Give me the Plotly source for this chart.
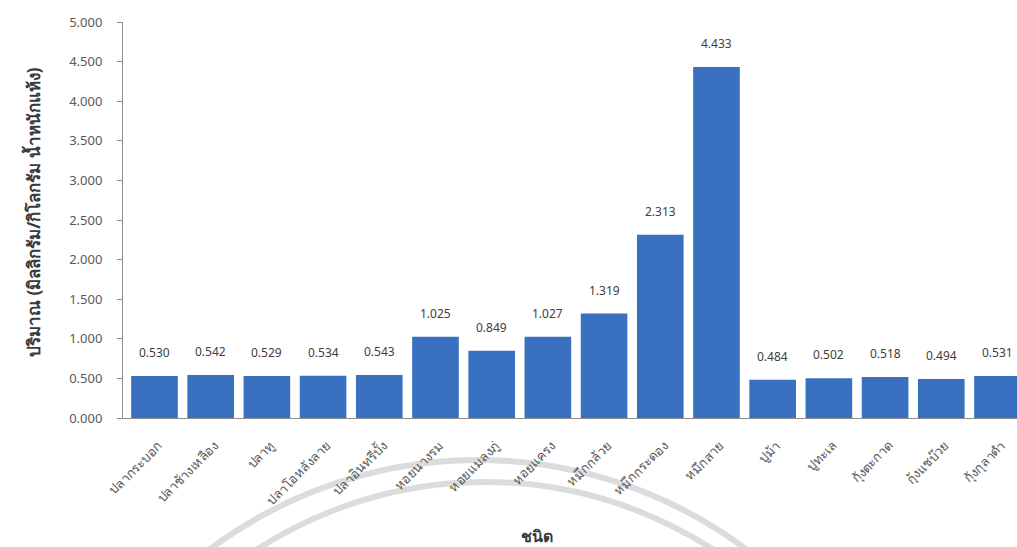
import plotly.graph_objects as go

# Species sampled
species = [
    "ปลากระบอก", "ปลาช้างเหลือง", "ปลาทู", "ปลาโอหลังลาย", "ปลาอินทรีบั้ง",
    "หอยนางรม", "หอยแมลงภู่", "หอยแครง", "หมึกกล้วย", "หมึกกระดอง",
    "หมึกสาย", "ปูม้า", "ปูทะเล", "กุ้งตะกาด", "กุ้งแชบ๊วย", "กุ้งกุลาดำ",
]

# Concentration (mg/kg dry weight)
amounts = [
    0.530, 0.542, 0.529, 0.534, 0.543,
    1.025, 0.849, 1.027, 1.319, 2.313,
    4.433, 0.484, 0.502, 0.518, 0.494, 0.531,
]

y_ticks = [0.0, 0.5, 1.0, 1.5, 2.0, 2.5, 3.0, 3.5, 4.0, 4.5, 5.0]

W, H = 1017, 547
L, R, T, B = 123, 0, 22, 129
plot_w = W - L - R
plot_h = H - T - B

FONT = "Noto Sans, Open Sans, sans-serif"
BAR = "#3a70c0"

fig = go.Figure()
fig.add_trace(go.Bar(
    x=list(range(len(species))),
    y=amounts,
    marker=dict(color=BAR, line=dict(width=0)),
    width=0.83,
    hoverinfo="x+y",
))

# value labels above each bar
annotations = []
for i, v in enumerate(amounts):
    annotations.append(dict(
        x=i, y=v, xref="x", yref="y",
        text=f"{v:.3f}", showarrow=False,
        yanchor="bottom", yshift=13,
        font=dict(family=FONT, size=12, color="#404040"),
    ))

# axis titles
annotations.append(dict(
    x=(33 - L) / plot_w, y=(H - B - 212) / plot_h, xref="paper", yref="paper",
    text="<b>ปริมาณ (มิลลิกรัม/กิโลกรัม น้ำหนักแห้ง)</b>", showarrow=False,
    textangle=-90, xanchor="center", yanchor="middle",
    font=dict(family=FONT, size=17, color="#3a3a3a"),
))
annotations.append(dict(
    x=(537 - L) / plot_w, y=(H - B - 536) / plot_h, xref="paper", yref="paper",
    text="<b>ชนิด</b>", showarrow=False,
    xanchor="center", yanchor="middle",
    font=dict(family=FONT, size=16, color="#3a3a3a"),
))

# faint decorative arcs behind the category labels (pixel-sized, anchored
# at the lower-left corner of the plotting area)
shapes = []
for cx, cy, r in [(478, 907, 447), (485, 901, 419)]:
    ox, oy = cx - L, (H - B) - cy
    shapes.append(dict(
        type="circle", xref="paper", yref="paper", layer="below",
        xsizemode="pixel", ysizemode="pixel", xanchor=0, yanchor=0,
        x0=ox - r, x1=ox + r, y0=oy - r, y1=oy + r,
        line=dict(color="#dcdcdc", width=6),
        fillcolor="rgba(0,0,0,0)",
    ))

x_left = -0.56
fig.update_layout(
    width=W, height=H,
    margin=dict(l=L, r=R, t=T, b=B),
    paper_bgcolor="white",
    plot_bgcolor="rgba(0,0,0,0)",
    showlegend=False,
    annotations=annotations,
    shapes=shapes,
    xaxis=dict(
        tickmode="array",
        tickvals=list(range(len(species))),
        ticktext=species,
        tickangle=-45,
        range=[x_left, x_left + plot_w / 56.2],
        showline=True, linecolor="#8c8c8c", linewidth=1,
        ticks="outside", ticklen=14, tickcolor="rgba(0,0,0,0)",
        ticklabelshift=4,
        showgrid=False, zeroline=False,
        tickfont=dict(family=FONT, size=13, color="#595959"),
    ),
    yaxis=dict(
        range=[0, 5],
        tickmode="array",
        tickvals=y_ticks,
        ticktext=[f"{t:.3f}" for t in y_ticks],
        ticks="outside", ticklen=5, tickcolor="#8c8c8c",
        showline=True, linecolor="#8c8c8c", linewidth=1,
        showgrid=False, zeroline=False,
        ticklabelstandoff=12,
        tickfont=dict(family=FONT, size=13, color="#595959"),
    ),
)

fig.write_html("out.html")
